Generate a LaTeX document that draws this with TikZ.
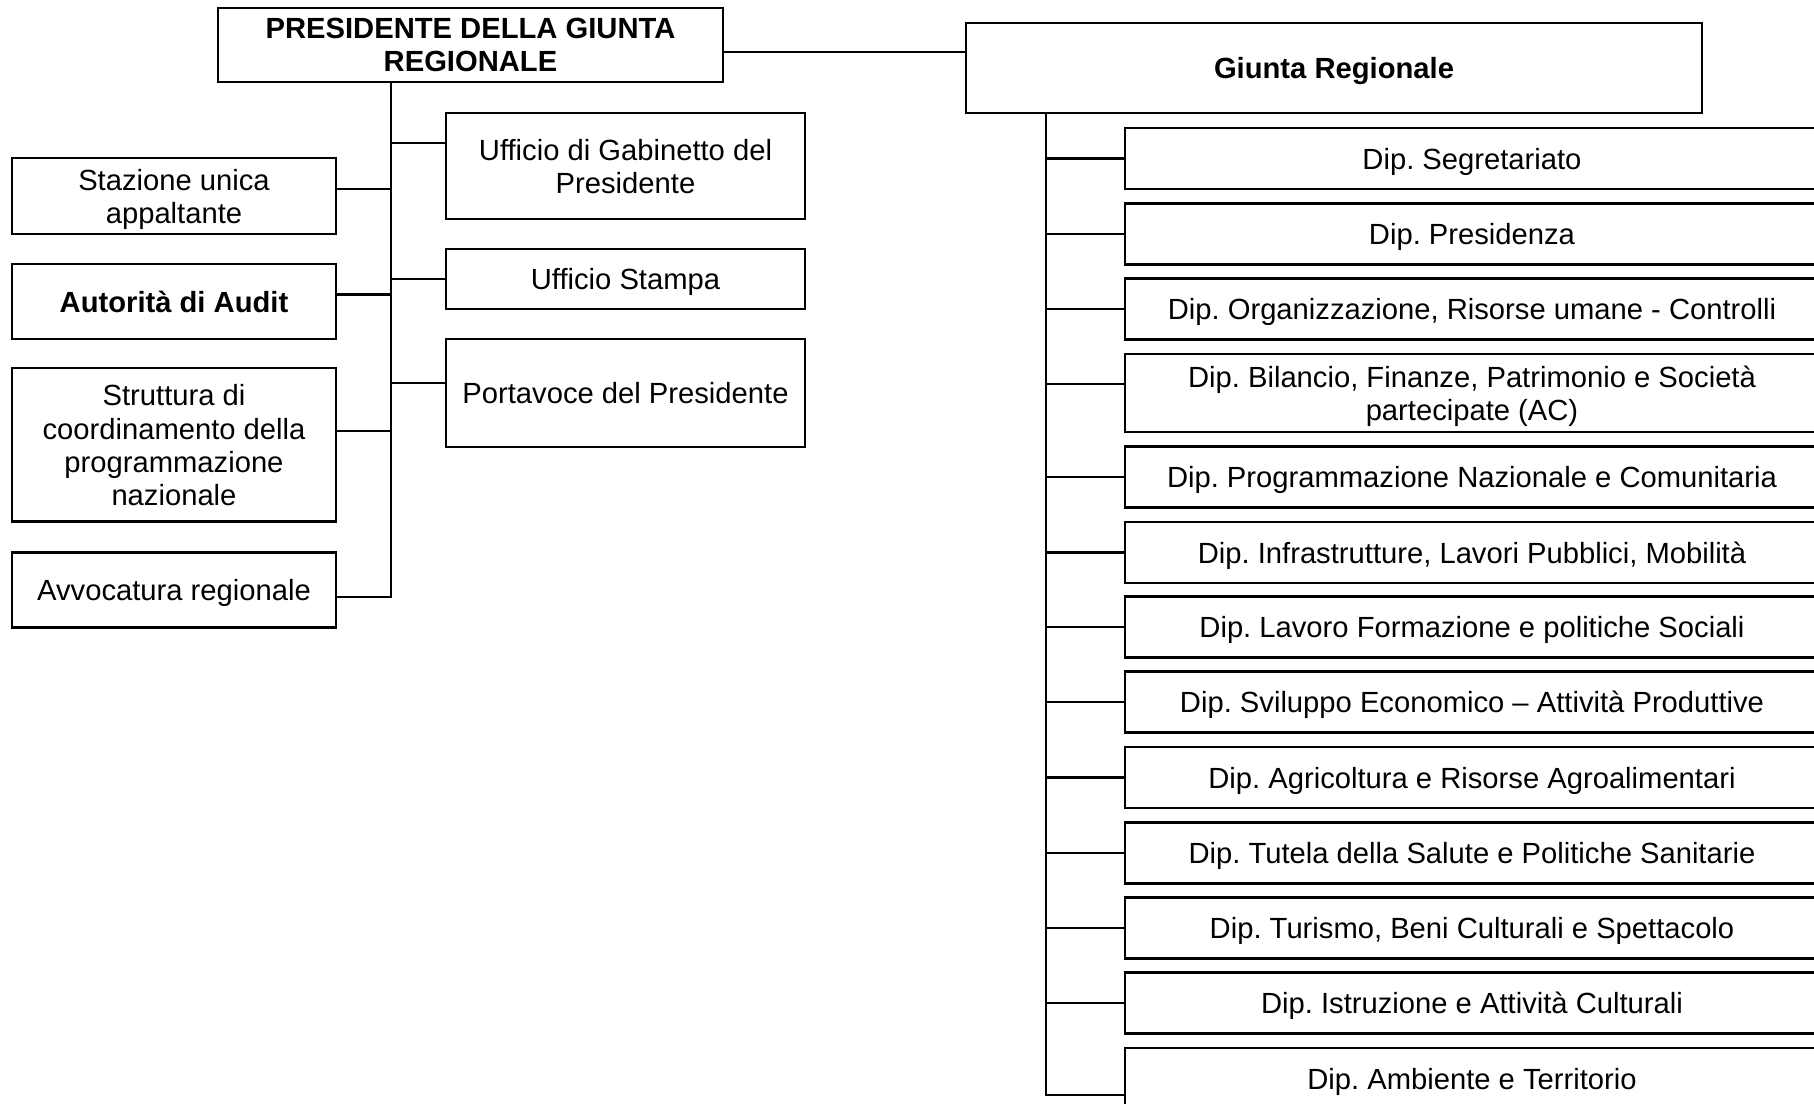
\documentclass[tikz,border=0pt]{standalone}
\usepackage{fontspec}
\setmainfont{Liberation Sans}
\frenchspacing
\newcommand{\orgfont}{\fontsize{8.3}{9.4}\selectfont}

\begin{document}
\begin{tikzpicture}[x=0.01cm, y=-0.01cm, line width=0.6pt, font=\orgfont]
	\tikzstyle{box}=[draw=black, fill=white, align=center, inner sep=1pt, text depth=0pt, line width=0.6pt]
	\tikzstyle{lbox}=[box, minimum width=3.24cm]
	\tikzstyle{rbox}=[box, minimum width=3.59cm]
	\tikzstyle{dip}=[box, minimum width=6.94cm, minimum height=0.61cm]
	\tikzstyle{link}=[draw=black, line width=0.6pt]

	\useasboundingbox (0,0) rectangle (1814,1104);

	% Draw top boxes
	\node[box, minimum width=5.05cm, minimum height=0.74cm, font=\orgfont\bfseries] (pres) at (470.5,45) {PRESIDENTE DELLA GIUNTA\\REGIONALE};
	\node[box, minimum width=7.36cm, minimum height=0.90cm, font=\orgfont\bfseries] (giunta) at (1334,68) {Giunta Regionale};

	% Draw offices of the president
	\node[lbox, minimum height=0.76cm] (suap) at (174,196) {Stazione unica\\appaltante};
	\node[lbox, minimum height=0.75cm, font=\orgfont\bfseries] (audit) at (174,301.5) {Autorità di Audit};
	\node[lbox, minimum height=1.53cm] (strut) at (174,445) {Struttura di\\coordinamento della\\programmazione\\nazionale};
	\node[lbox, minimum height=0.75cm] (avv) at (174,590) {Avvocatura regionale};
	\node[rbox, minimum height=1.06cm] (gab) at (625.5,166) {Ufficio di Gabinetto del\\Presidente};
	\node[rbox, minimum height=0.60cm] (stampa) at (625.5,279) {Ufficio Stampa};
	\node[rbox, minimum height=1.08cm] (portav) at (625.5,393) {Portavoce del Presidente};

	% Draw departments
	\node[dip] (segr) at (1472,158.5) {Dip. Segretariato};
	\node[dip] (presid) at (1472,234) {Dip. Presidenza};
	\node[dip] (organ) at (1472,309) {Dip. Organizzazione, Risorse umane - Controlli};
	\node[dip, minimum height=0.78cm] (bilan) at (1472,393) {Dip. Bilancio, Finanze, Patrimonio e Società\\partecipate (AC)};
	\node[dip] (progr) at (1472,477) {Dip. Programmazione Nazionale e Comunitaria};
	\node[dip] (infra) at (1472,552.5) {Dip. Infrastrutture, Lavori Pubblici, Mobilità};
	\node[dip] (lavoro) at (1472,627) {Dip. Lavoro Formazione e politiche Sociali};
	\node[dip] (svil) at (1472,702) {Dip. Sviluppo Economico -- Attività Produttive};
	\node[dip] (agri) at (1472,777.5) {Dip. Agricoltura e Risorse Agroalimentari};
	\node[dip] (tutela) at (1472,853) {Dip. Tutela della Salute e Politiche Sanitarie};
	\node[dip] (turismo) at (1472,928) {Dip. Turismo, Beni Culturali e Spettacolo};
	\node[dip] (istruz) at (1472,1003) {Dip. Istruzione e Attività Culturali};
	\node[dip] (amb) at (1472,1078.5) {Dip. Ambiente e Territorio};

	% Draw connectors
	\coordinate (ptrunk) at (391,597);
	\coordinate (gtrunk) at (1046,1095);
	\coordinate (pg) at ([yshift=0.16cm]giunta.west);
	\draw[link] (pg) -- (pg -| pres.east);
	\draw[link] (pres.south -| ptrunk) -- (ptrunk);
	\draw[link] (giunta.south -| gtrunk) -- (gtrunk);

	\draw[link] ([yshift=0.23cm]gab.west) -| (ptrunk);
	\draw[link] (stampa.west) -| (ptrunk);
	\draw[link] ([yshift=0.10cm]portav.west) -| (ptrunk);
	\draw[link] ([yshift=0.07cm]suap.east) -| (ptrunk);
	\draw[link] ([yshift=0.07cm]audit.east) -| (ptrunk);
	\draw[link] ([yshift=0.14cm]strut.east) -| (ptrunk);
	\draw[link] ([yshift=-0.07cm]avv.east) -| (ptrunk);

	\foreach \d in {segr,presid,organ,progr,infra,lavoro,svil,agri,tutela,turismo,istruz}
		\draw[link] (\d.west) -| (gtrunk);
	\draw[link] ([yshift=0.09cm]bilan.west) -| (gtrunk);
	\draw[link] ([yshift=-0.165cm]amb.west) -| (gtrunk);

\end{tikzpicture}
\end{document}
